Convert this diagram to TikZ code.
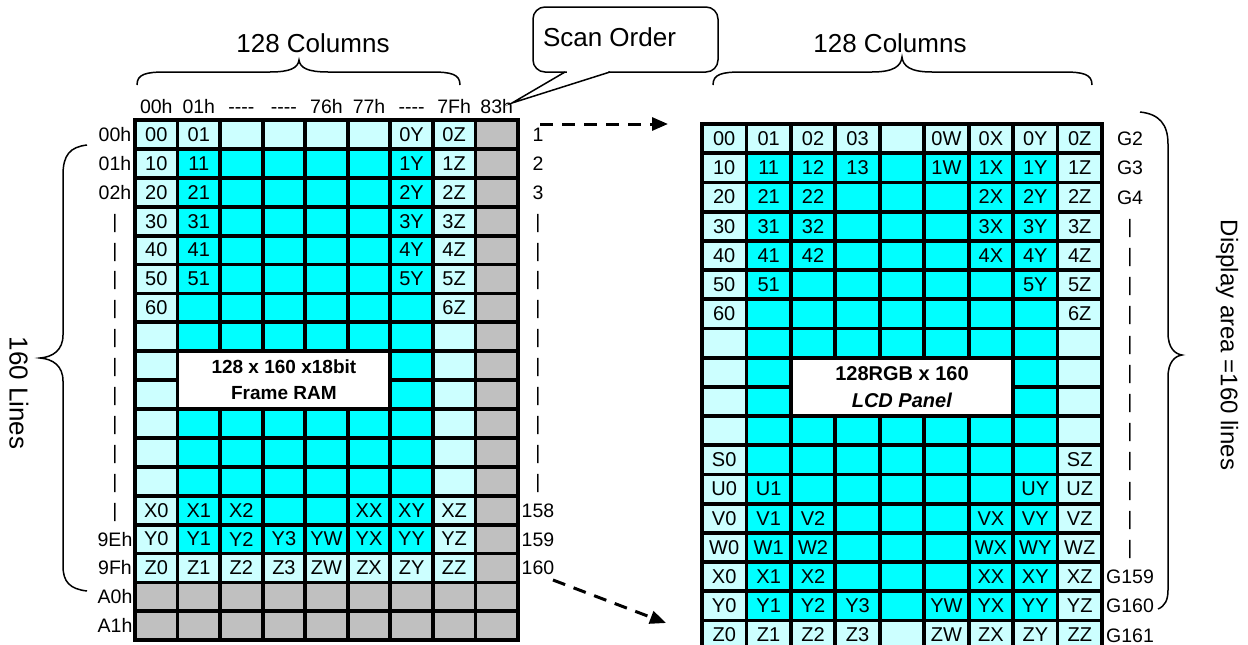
\documentclass[tikz,border=0pt]{standalone}
\usepackage{fontspec}
\setmainfont{Liberation Sans}
\usetikzlibrary{arrows.meta}
\definecolor{lc}{RGB}{204,255,255}
\definecolor{cy}{RGB}{0,255,255}
\definecolor{gy}{RGB}{192,192,192}
\newcommand{\dsh}{-{}-{}-{}-}
\newcommand{\lrow}[2]{\foreach \c/\t [count=\i from 0] in {#2} {\node[lcell,fill=\c] (L-#1-\i) at ({135+(\i+0.5)*42.55},{120+(#1+0.5)*28.9}) {\t};}}
\newcommand{\rrow}[2]{\foreach \c/\t [count=\i from 0] in {#2} {\node[rcell,fill=\c] (R-#1-\i) at ({702+(\i+0.5)*44.44},{124+(#1+0.5)*29.2}) {\t};}}
\begin{document}
\begin{tikzpicture}[x=1pt,y=-1pt,
  lcell/.style={draw=black,line width=3.8pt,minimum width=42.55pt,minimum height=28.9pt,inner sep=0pt,font=\fontsize{20}{24}\selectfont},
  rcell/.style={lcell,minimum width=44.44pt,minimum height=29.2pt},
  lab/.style={inner sep=0pt,font=\fontsize{19.5}{22}\selectfont,text height=14pt,text depth=0pt},
  big/.style={inner sep=0pt,font=\fontsize{26}{30}\selectfont},
  brace/.style={line width=1.5pt},
  dasharrow/.style={line width=3pt,dash pattern=on 13pt off 9pt,-{Triangle[length=16pt,width=13pt]}}]
\useasboundingbox (0,0) rectangle (1248,645);
\clip (0,0) rectangle (1248,645);
\fill[white] (0,0) rectangle (1248,645);

% ---------------- left grid ----------------
\lrow{0}{lc/00,lc/01,lc/{},lc/{},lc/{},lc/{},lc/0Y,lc/0Z,gy/{}}
\lrow{1}{lc/10,cy/11,cy/{},cy/{},cy/{},cy/{},cy/1Y,lc/1Z,gy/{}}
\lrow{2}{lc/20,cy/21,cy/{},cy/{},cy/{},cy/{},cy/2Y,lc/2Z,gy/{}}
\lrow{3}{lc/30,cy/31,cy/{},cy/{},cy/{},cy/{},cy/3Y,lc/3Z,gy/{}}
\lrow{4}{lc/40,cy/41,cy/{},cy/{},cy/{},cy/{},cy/4Y,lc/4Z,gy/{}}
\lrow{5}{lc/50,cy/51,cy/{},cy/{},cy/{},cy/{},cy/5Y,lc/5Z,gy/{}}
\lrow{6}{lc/60,cy/{},cy/{},cy/{},cy/{},cy/{},cy/{},lc/6Z,gy/{}}
\foreach \r in {7,...,12}{\lrow{\r}{lc/{},cy/{},cy/{},cy/{},cy/{},cy/{},cy/{},lc/{},gy/{}}}
\lrow{13}{lc/X0,cy/X1,cy/X2,cy/{},cy/{},cy/XX,cy/XY,lc/XZ,gy/{}}
\lrow{14}{lc/Y0,cy/Y1,cy/Y2,cy/Y3,cy/YW,cy/YX,cy/YY,lc/YZ,gy/{}}
\lrow{15}{lc/Z0,lc/Z1,lc/Z2,lc/Z3,lc/ZW,lc/ZX,lc/ZY,lc/ZZ,gy/{}}
\lrow{16}{gy/{},gy/{},gy/{},gy/{},gy/{},gy/{},gy/{},gy/{},gy/{}}
\lrow{17}{gy/{},gy/{},gy/{},gy/{},gy/{},gy/{},gy/{},gy/{},gy/{}}
\node[draw=black,fill=white,line width=3.8pt,minimum width=212.75pt,minimum height=57.8pt,inner sep=0pt,align=center,
  font=\bfseries\fontsize{19}{26}\selectfont] (ram) at (283.9,380.1) {128 x 160 x18bit\\Frame RAM};
\draw[line width=4.5pt] (135,120) rectangle (518,640);

% column headers
\foreach \t [count=\i from 0] in {00h,01h,\dsh,\dsh,76h,77h,\dsh,7Fh,83h}
  \node[lab] (ch-\i) at ({135+(\i+0.5)*42.55},106.5) {\t};
% row labels
\foreach \t [count=\i from 0] in {00h,01h,02h,|,|,|,|,|,|,|,|,|,|,|,9Eh,9Fh,A0h,A1h}
  \node[lab] (rl-\i) at (115,{120+(\i+0.5)*28.9}) {\t};
\foreach \t [count=\i from 0] in {1,2,3,|,|,|,|,|,|,|,|,|,|,158,159,160}
  \node[lab] (rn-\i) at (538,{120+(\i+0.5)*28.9}) {\t};

% ---------------- right grid ----------------
\rrow{0}{lc/00,lc/01,lc/02,lc/03,lc/{},lc/0W,lc/0X,lc/0Y,lc/0Z}
\rrow{1}{lc/10,cy/11,cy/12,cy/13,cy/{},cy/1W,cy/1X,cy/1Y,lc/1Z}
\rrow{2}{lc/20,cy/21,cy/22,cy/{},cy/{},cy/{},cy/2X,cy/2Y,lc/2Z}
\rrow{3}{lc/30,cy/31,cy/32,cy/{},cy/{},cy/{},cy/3X,cy/3Y,lc/3Z}
\rrow{4}{lc/40,cy/41,cy/42,cy/{},cy/{},cy/{},cy/4X,cy/4Y,lc/4Z}
\rrow{5}{lc/50,cy/51,cy/{},cy/{},cy/{},cy/{},cy/{},cy/5Y,lc/5Z}
\rrow{6}{lc/60,cy/{},cy/{},cy/{},cy/{},cy/{},cy/{},cy/{},lc/6Z}
\foreach \r in {7,...,10}{\rrow{\r}{lc/{},cy/{},cy/{},cy/{},cy/{},cy/{},cy/{},cy/{},lc/{}}}
\rrow{11}{lc/S0,cy/{},cy/{},cy/{},cy/{},cy/{},cy/{},cy/{},lc/SZ}
\rrow{12}{lc/U0,cy/U1,cy/{},cy/{},cy/{},cy/{},cy/{},cy/UY,lc/UZ}
\rrow{13}{lc/V0,cy/V1,cy/V2,cy/{},cy/{},cy/{},cy/VX,cy/VY,lc/VZ}
\rrow{14}{lc/W0,cy/W1,cy/W2,cy/{},cy/{},cy/{},cy/WX,cy/WY,lc/WZ}
\rrow{15}{lc/X0,cy/X1,cy/X2,cy/{},cy/{},cy/{},cy/XX,cy/XY,lc/XZ}
\rrow{16}{lc/Y0,cy/Y1,cy/Y2,cy/Y3,cy/{},cy/YW,cy/YX,cy/YY,lc/YZ}
\rrow{17}{lc/Z0,lc/Z1,lc/Z2,lc/Z3,lc/{},lc/ZW,lc/ZX,lc/ZY,lc/ZZ}
\node[draw=black,fill=white,line width=3.8pt,minimum width=222.2pt,minimum height=58.4pt,inner sep=0pt,align=center,
  font=\bfseries\fontsize{20}{27}\selectfont] (lcd) at (902,386.8) {128RGB x 160\\\textit{LCD Panel}};
\draw[line width=4.5pt] (702,124) rectangle (1102,650);
\foreach \t [count=\i from 0] in {G2,G3,G4,|,|,|,|,|,|,|,|,|,|,|,|,G159,G160,G161}
  \node[lab] (gl-\i) at (1130,{124+(\i+0.5)*29.2}) {\t};

% ---------------- braces and titles ----------------
\draw[brace] (137,85) .. controls (137,74) and (146,72) .. (166,72) -- (270,72)
  .. controls (290,72) and (298,68) .. (299,60) .. controls (300,68) and (308,72) .. (328,72)
  -- (431,72) .. controls (451,72) and (460,74) .. (460,85);
\node[big] (t1) at (313,43) {128 Columns};
\draw[brace] (713,85) .. controls (713,74) and (722,72) .. (742,72) -- (872,72)
  .. controls (894,72) and (901,66) .. (902,57) .. controls (903,66) and (910,72) .. (932,72)
  -- (1063,72) .. controls (1083,72) and (1092,74) .. (1092,85);
\node[big] (t2) at (890,43) {128 Columns};
\draw[brace] (87,145) .. controls (70,147) and (63,155) .. (63,175) -- (63,335)
  .. controls (63,350) and (53,357) .. (40,358) .. controls (53,359) and (63,366) .. (63,381)
  -- (63,566) .. controls (63,582) and (70,589) .. (87,591);
\node[big,rotate=-90] (t3) at (19,393) {160 Lines};
\draw[brace] (1140,112) .. controls (1159,114) and (1168,124) .. (1168,144) -- (1168,333)
  .. controls (1168,348) and (1175,354) .. (1182,355) .. controls (1175,356) and (1168,362) .. (1168,377)
  -- (1168,590) .. controls (1168,600) and (1165,606) .. (1158,609);
\node[inner sep=0pt,font=\fontsize{24}{28}\selectfont,rotate=-90] (t4) at (1227,345) {Display area =160 lines};

% ---------------- callout ----------------
\draw[line width=1.5pt,fill=white,rounded corners=12pt] (533,7) rectangle (718,72);
\fill[white] (567,74) -- (512,103) -- (608,74) -- (608,70) -- (567,70) -- cycle;
\coordinate (tail) at (512,103);
\draw[line width=1.5pt,line join=miter] (565,72) -- (tail) -- (610,72);
\node[big] (scan) at (609.5,37) {Scan Order};

% ---------------- arrows ----------------
\coordinate (a1s) at (540,124);
\coordinate (a1e) at (668,124);
\draw[dasharrow] (a1s) -- (a1e);
\coordinate (a2s) at (553,580);
\coordinate (a2e) at (666,623);
\draw[dasharrow] (a2s) -- (a2e);
\end{tikzpicture}
\end{document}
